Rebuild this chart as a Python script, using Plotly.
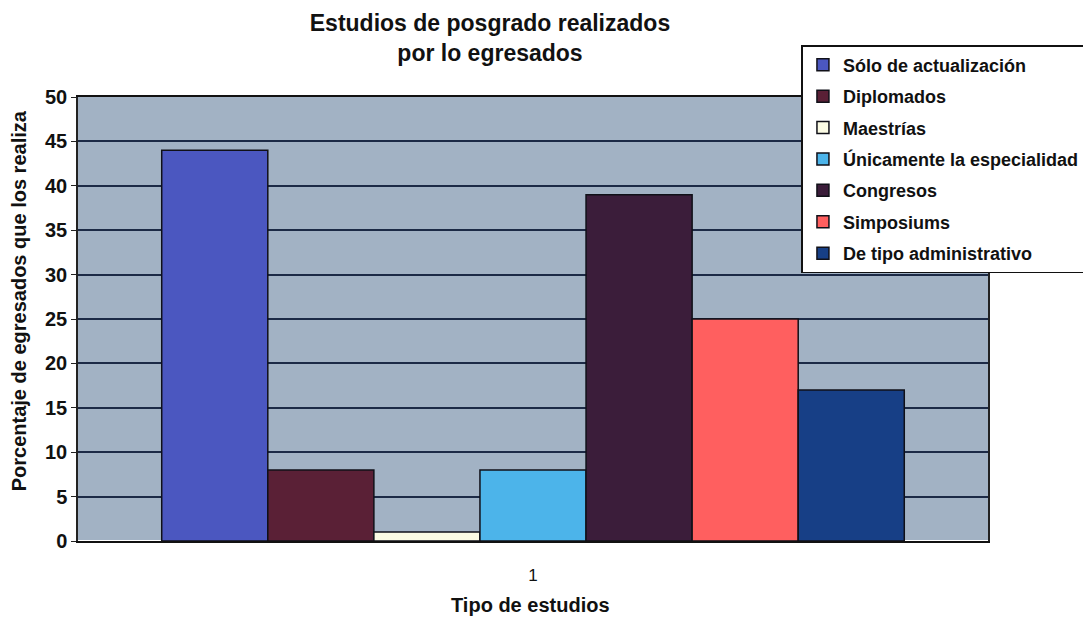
import plotly.graph_objects as go

categorias = ["1"]
series = ["Sólo de actualización", "Diplomados", "Maestrías",
          "Únicamente la especialidad", "Congresos", "Simposiums",
          "De tipo administrativo"]
valores = [44, 8, 1, 8, 39, 25, 17]
colores = ["#4b57c0", "#5a2036", "#fbfbe4", "#4cb4ea", "#3b1d3a", "#ff5f5f", "#173f86"]

fig = go.Figure()
for i, (nombre, v) in enumerate(zip(series, valores)):
    fig.add_trace(go.Bar(
        x=categorias, y=[v], name="<b>" + nombre + "</b>", legendgroup=nombre,
        marker=dict(color=colores[i], line=dict(color="#101018", width=1.5)),
    ))

fnt = "Liberation Sans, Arial, sans-serif"
fig.update_layout(
    width=1091, height=617,
    margin=dict(l=70, r=111, t=89, b=84, autoexpand=False),
    paper_bgcolor="white", plot_bgcolor="#a2b2c4",
    barmode="group", bargap=0.184, bargroupgap=0,
    title=dict(text="<b>Estudios de posgrado realizados<br>por lo egresados</b>",
               x=482 / 1091, xanchor="center", y=0.962, yanchor="middle",
               font=dict(family=fnt, size=23, color="#111")),
    font=dict(family=fnt, color="#111"),
    legend=dict(x=0.795, y=1.117, xanchor="left", yanchor="top",
                bgcolor="white", bordercolor="#111", borderwidth=1.5,
                traceorder="grouped", tracegroupgap=5,
                font=dict(family=fnt, size=18, color="#111")),
    showlegend=True,
    annotations=[
        dict(text="<b>Porcentaje de egresados que los realiza</b>", textangle=-90,
             xref="paper", yref="paper", x=-0.0648, y=0.54, showarrow=False,
             xanchor="center", yanchor="middle", font=dict(size=20, family=fnt, color="#111")),
        dict(text="<b>Tipo de estudios</b>",
             xref="paper", yref="paper", x=0.497, y=-0.144, showarrow=False,
             xanchor="center", yanchor="middle", font=dict(size=20, family=fnt, color="#111")),
    ],
)

fig.update_xaxes(
    showline=True, linecolor="#111", linewidth=2, mirror=True,
    tickfont=dict(size=17, family=fnt), ticks="outside", ticklen=18,
    tickcolor="rgba(0,0,0,0)",
)
fig.update_yaxes(
    range=[0, 50], dtick=5, showgrid=True, gridcolor="#1c2a46", gridwidth=1.5,
    showline=True, linecolor="#222", linewidth=1.5, mirror=True,
    ticks="outside", ticklen=5, tickcolor="#222",
    tickfont=dict(size=20, family=fnt), tickprefix="<b>", ticksuffix="</b>",
)

fig.write_html("out.html")
